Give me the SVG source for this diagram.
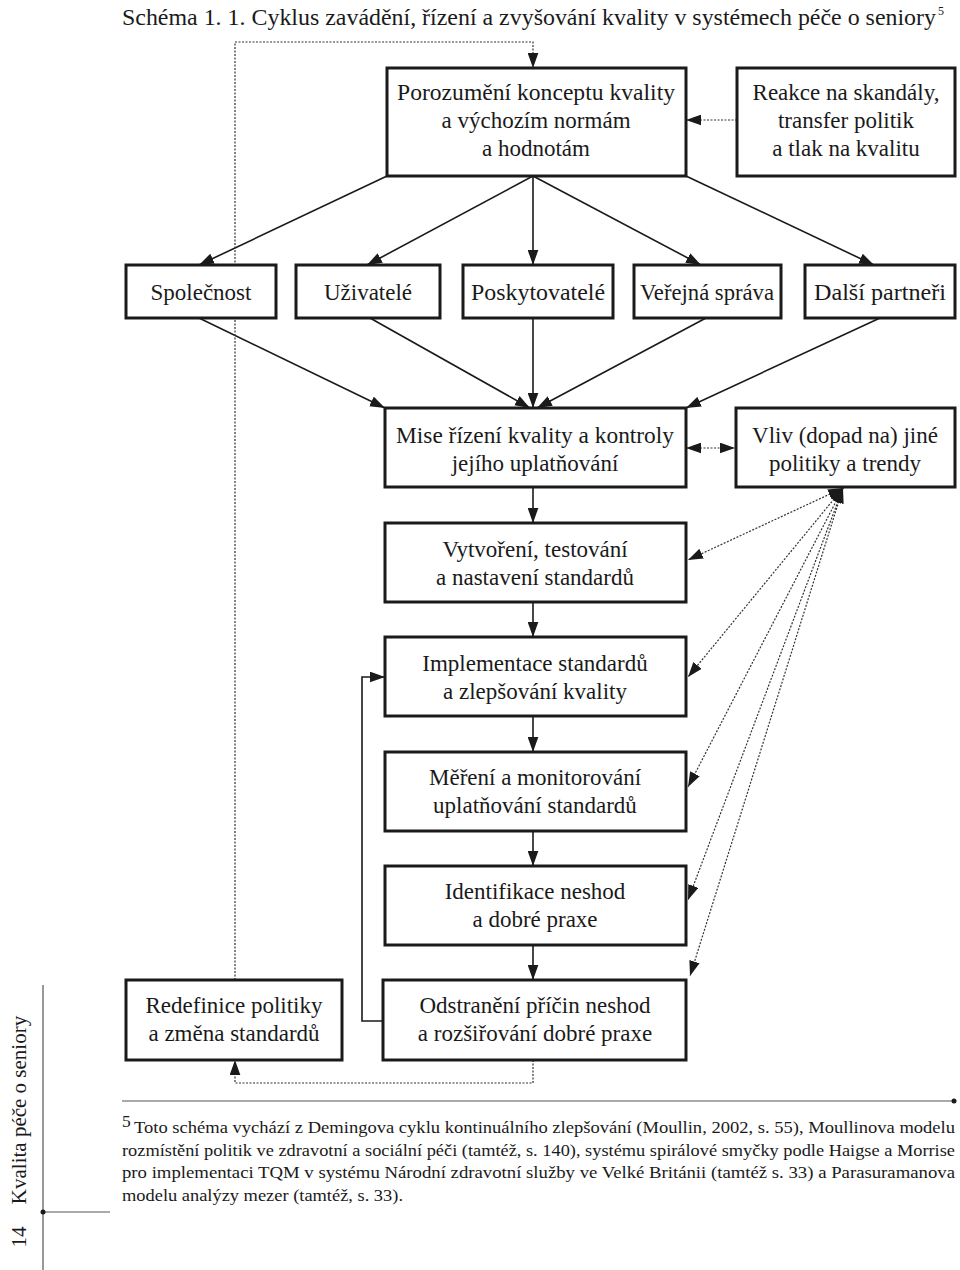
<svg xmlns="http://www.w3.org/2000/svg" width="960" height="1270" viewBox="0 0 960 1270">
<style>
.box{fill:#fff;stroke:#1a1a1a;stroke-width:3}
.t{font-family:"Liberation Serif","DejaVu Serif",serif;font-size:23px;fill:#1a1a1a;text-anchor:middle}
.s{fill:none;stroke:#1a1a1a;stroke-width:1.6}
.d{fill:none;stroke:#333;stroke-width:1.2;stroke-dasharray:2 1.5}
.fn{font-family:"Liberation Serif","DejaVu Serif",serif;font-size:17.5px;fill:#1a1a1a}
</style>
<defs>
<marker id="a" viewBox="0 0 14 10" refX="14" refY="5" markerWidth="15" markerHeight="11" markerUnits="userSpaceOnUse" orient="auto-start-reverse">
<path d="M0,0 L14,5 L0,10 z" fill="#1a1a1a"/>
</marker>
</defs>
<rect width="960" height="1270" fill="#fff"/>
<text x="122" y="25" font-family="Liberation Serif, serif" font-size="24" fill="#1a1a1a" textLength="814" lengthAdjust="spacingAndGlyphs">Schéma 1. 1. Cyklus zavádění, řízení a zvyšování kvality v systémech péče o seniory</text>
<text x="938" y="15" font-family="Liberation Serif, serif" font-size="12" fill="#1a1a1a">5</text>

<g id="connectors">
<path class="s" d="M533,176 L533,265" marker-end="url(#a)"/>
<path class="s" d="M387,176 L199,265" marker-end="url(#a)"/>
<path class="s" d="M533,176 L367,265" marker-end="url(#a)"/>
<path class="s" d="M533,176 L701,265" marker-end="url(#a)"/>
<path class="s" d="M686,176 L874,265" marker-end="url(#a)"/>
<path class="s" d="M199,318 L385,408" marker-end="url(#a)"/>
<path class="s" d="M370,318 L530,408" marker-end="url(#a)"/>
<path class="s" d="M533,318 L533,408" marker-end="url(#a)"/>
<path class="s" d="M706,318 L537,408" marker-end="url(#a)"/>
<path class="s" d="M880,318 L686,408" marker-end="url(#a)"/>
<path class="s" d="M533,487 L533,523" marker-end="url(#a)"/>
<path class="s" d="M533,602 L533,637" marker-end="url(#a)"/>
<path class="s" d="M533,716 L533,752" marker-end="url(#a)"/>
<path class="s" d="M533,831 L533,866" marker-end="url(#a)"/>
<path class="s" d="M533,945 L533,980" marker-end="url(#a)"/>
<path class="s" d="M383,1021 L362,1021 L362,677 L385,677" marker-end="url(#a)"/>
<path class="d" d="M737,120 L686,120" marker-end="url(#a)"/>
<path class="d" d="M686,448 L735,448" marker-start="url(#a)" marker-end="url(#a)"/>
<path class="d" d="M235,980 L235,42 L533,42 L533,68" marker-end="url(#a)"/>
<path class="d" d="M533,1060 L533,1083 L235,1083 L235,1060" marker-end="url(#a)"/>
<path class="d" d="M843,488 L688,560" marker-start="url(#a)" marker-end="url(#a)"/>
<path class="d" d="M843,488 L688,677" marker-start="url(#a)" marker-end="url(#a)"/>
<path class="d" d="M843,488 L688,787" marker-start="url(#a)" marker-end="url(#a)"/>
<path class="d" d="M843,488 L688,900" marker-start="url(#a)" marker-end="url(#a)"/>
<path class="d" d="M843,488 L690,976" marker-start="url(#a)" marker-end="url(#a)"/>
</g>

<g id="porozumeni"><rect class="box" x="387" y="68" width="299" height="108"/>
<text class="t" x="536" y="100" textLength="278" lengthAdjust="spacingAndGlyphs">Porozumění konceptu kvality</text>
<text class="t" x="536" y="128">a výchozím normám</text>
<text class="t" x="536" y="156">a hodnotám</text></g>
<g id="reakce"><rect class="box" x="737" y="68" width="218" height="108"/>
<text class="t" x="846" y="100">Reakce na skandály,</text>
<text class="t" x="846" y="128">transfer politik</text>
<text class="t" x="846" y="156">a tlak na kvalitu</text></g>

<g id="spolecnost"><rect class="box" x="126" y="265" width="150" height="53"/><text class="t" x="201" y="300">Společnost</text></g>
<g id="uzivatele"><rect class="box" x="296" y="265" width="144" height="53"/><text class="t" x="368" y="300">Uživatelé</text></g>
<g id="poskytovatele"><rect class="box" x="463" y="265" width="150" height="53"/><text class="t" x="538" y="300" textLength="134" lengthAdjust="spacingAndGlyphs">Poskytovatelé</text></g>
<g id="verejna"><rect class="box" x="634" y="265" width="147" height="53"/><text class="t" x="707" y="300" textLength="134" lengthAdjust="spacingAndGlyphs">Veřejná správa</text></g>
<g id="dalsi"><rect class="box" x="805" y="265" width="150" height="53"/><text class="t" x="880" y="300" textLength="132" lengthAdjust="spacingAndGlyphs">Další partneři</text></g>

<g id="mise"><rect class="box" x="385" y="408" width="301" height="79"/>
<text class="t" x="535" y="443" textLength="278" lengthAdjust="spacingAndGlyphs">Mise řízení kvality a kontroly</text>
<text class="t" x="535" y="471">jejího uplatňování</text></g>
<g id="vliv"><rect class="box" x="736" y="408" width="219" height="79"/>
<text class="t" x="845" y="443">Vliv (dopad na) jiné</text>
<text class="t" x="845" y="471">politiky a trendy</text></g>

<g id="vytvoreni"><rect class="box" x="385" y="523" width="301" height="79"/>
<text class="t" x="535" y="557">Vytvoření, testování</text>
<text class="t" x="535" y="585">a nastavení standardů</text></g>
<g id="implementace"><rect class="box" x="385" y="637" width="301" height="79"/>
<text class="t" x="535" y="671">Implementace standardů</text>
<text class="t" x="535" y="699">a zlepšování kvality</text></g>
<g id="mereni"><rect class="box" x="385" y="752" width="301" height="79"/>
<text class="t" x="535" y="785">Měření a monitorování</text>
<text class="t" x="535" y="813">uplatňování standardů</text></g>
<g id="identifikace"><rect class="box" x="385" y="866" width="301" height="79"/>
<text class="t" x="535" y="899">Identifikace neshod</text>
<text class="t" x="535" y="927">a dobré praxe</text></g>
<g id="odstraneni"><rect class="box" x="383" y="980" width="303" height="80"/>
<text class="t" x="535" y="1013">Odstranění příčin neshod</text>
<text class="t" x="535" y="1041">a rozšiřování dobré praxe</text></g>
<g id="redefinice"><rect class="box" x="126" y="980" width="216" height="80"/>
<text class="t" x="234" y="1013">Redefinice politiky</text>
<text class="t" x="234" y="1041">a změna standardů</text></g>

<g id="footnote">
<line x1="122" y1="1101" x2="953" y2="1101" stroke="#555" stroke-width="1.2"/>
<circle cx="954" cy="1101" r="2.5" fill="#1a1a1a"/>
<text class="fn" x="122" y="1127" font-size="11">5</text>
<text class="fn" x="134" y="1133" textLength="821" lengthAdjust="spacingAndGlyphs">Toto schéma vychází z Demingova cyklu kontinuálního zlepšování (Moullin, 2002, s. 55), Moullinova modelu</text>
<text class="fn" x="122" y="1156" textLength="833" lengthAdjust="spacingAndGlyphs">rozmístění politik ve zdravotní a sociální péči (tamtéž, s. 140), systému spirálové smyčky podle Haigse a Morrise</text>
<text class="fn" x="122" y="1178" textLength="833" lengthAdjust="spacingAndGlyphs">pro implementaci TQM v systému Národní zdravotní služby ve Velké Británii (tamtéž s. 33) a Parasuramanova</text>
<text class="fn" x="122" y="1201" textLength="281" lengthAdjust="spacingAndGlyphs">modelu analýzy mezer (tamtéž, s. 33).</text>
</g>

<g id="sidebar">
<line x1="43" y1="985" x2="43" y2="1270" stroke="#555" stroke-width="1.2"/>
<line x1="43" y1="1212" x2="110" y2="1212" stroke="#555" stroke-width="1.2"/>
<circle cx="43" cy="1212" r="2.5" fill="#1a1a1a"/>
<text transform="translate(26,1110) rotate(-90)" font-family="Liberation Serif, serif" font-size="21" fill="#1a1a1a" text-anchor="middle">Kvalita péče o seniory</text>
<text transform="translate(26,1237) rotate(-90)" font-family="Liberation Serif, serif" font-size="21" fill="#1a1a1a" text-anchor="middle">14</text>
</g>
</svg>
